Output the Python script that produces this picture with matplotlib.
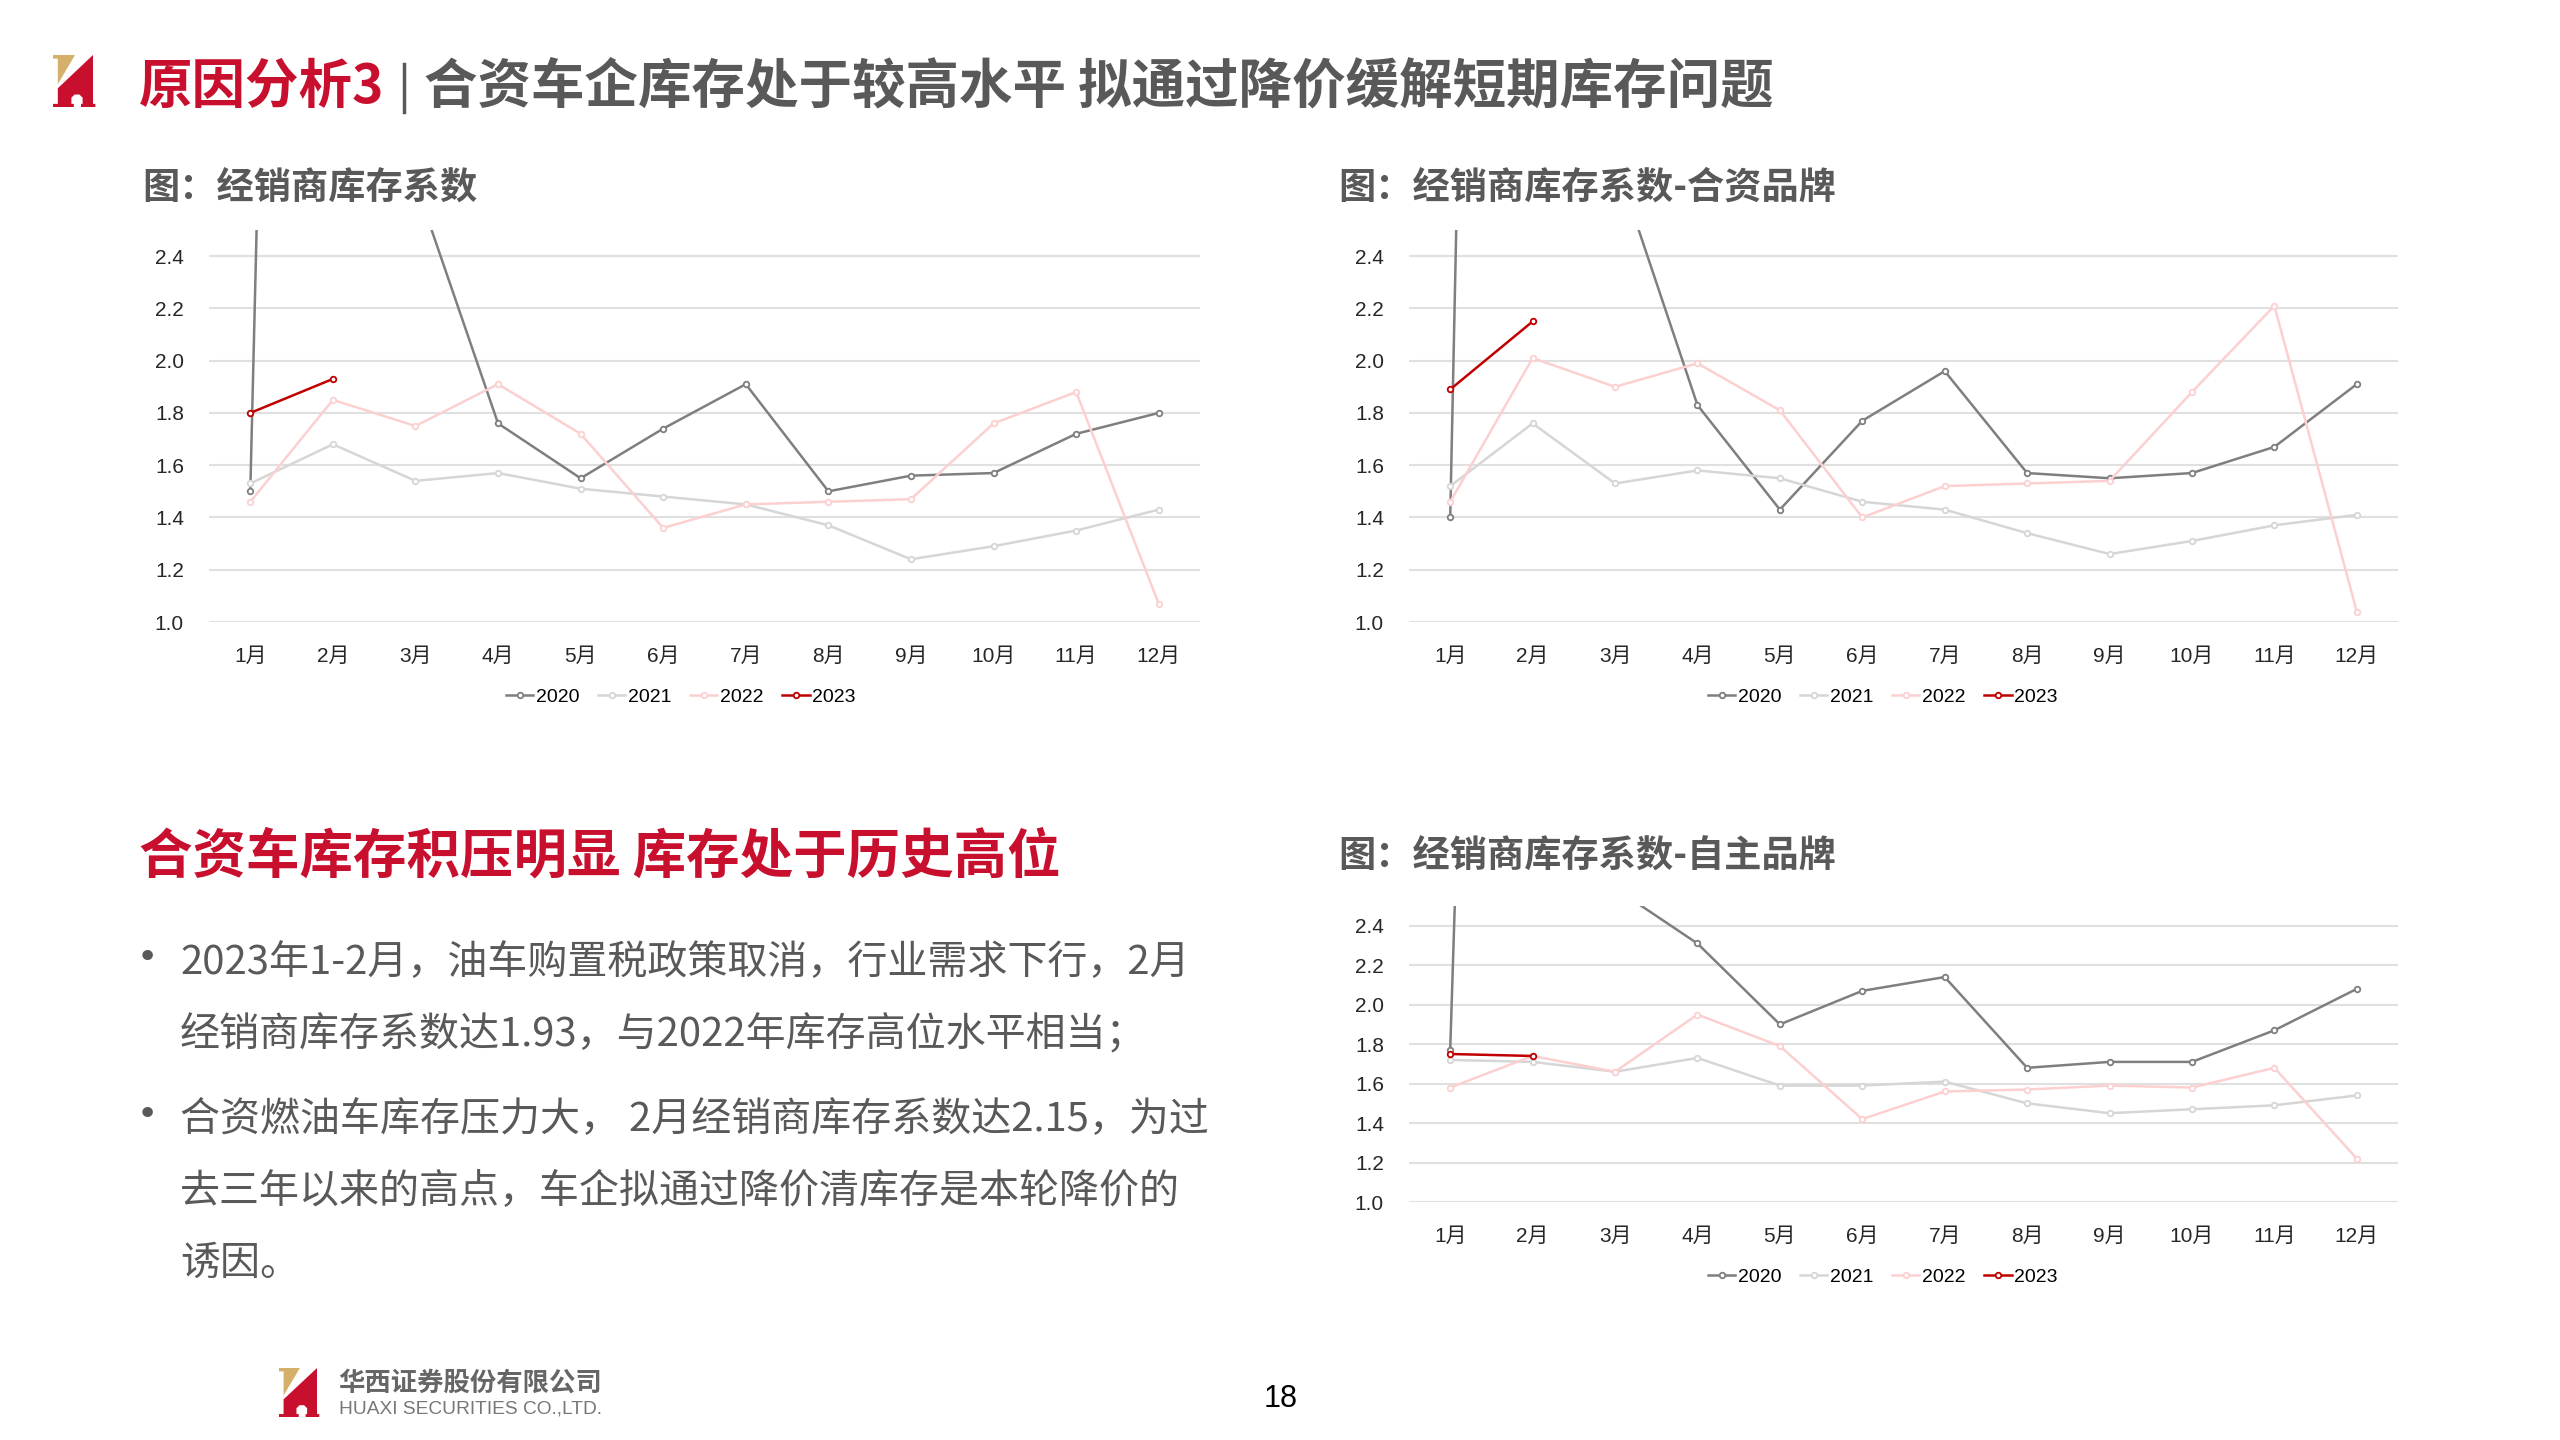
import matplotlib
matplotlib.use("Agg")
import matplotlib.pyplot as plt
from matplotlib.patches import Polygon

plt.rcParams['font.family'] = ['Liberation Sans', 'Noto Sans CJK SC', 'DejaVu Sans']

# ---------------- data ----------------
months = ['1月', '2月', '3月', '4月', '5月', '6月', '7月', '8月', '9月', '10月', '11月', '12月']
years = ['2020', '2021', '2022', '2023']

total_2020 = [1.50, 14.6, 2.68, 1.76, 1.55, 1.74, 1.91, 1.50, 1.56, 1.57, 1.72, 1.80]
total_2021 = [1.53, 1.68, 1.54, 1.57, 1.51, 1.48, 1.45, 1.37, 1.24, 1.29, 1.35, 1.43]
total_2022 = [1.46, 1.85, 1.75, 1.91, 1.72, 1.36, 1.45, 1.46, 1.47, 1.76, 1.88, 1.07]
total_2023 = [1.80, 1.93]

jv_2020 = [1.40, 16.5, 2.77, 1.83, 1.43, 1.77, 1.96, 1.57, 1.55, 1.57, 1.67, 1.91]
jv_2021 = [1.52, 1.76, 1.53, 1.58, 1.55, 1.46, 1.43, 1.34, 1.26, 1.31, 1.37, 1.41]
jv_2022 = [1.46, 2.01, 1.90, 1.99, 1.81, 1.40, 1.52, 1.53, 1.54, 1.88, 2.21, 1.04]
jv_2023 = [1.89, 2.15]

dom_2020 = [1.77, 15.0, 2.59, 2.31, 1.90, 2.07, 2.14, 1.68, 1.71, 1.71, 1.87, 2.08]
dom_2021 = [1.72, 1.71, 1.66, 1.73, 1.59, 1.59, 1.61, 1.50, 1.45, 1.47, 1.49, 1.54]
dom_2022 = [1.58, 1.74, 1.66, 1.95, 1.79, 1.42, 1.56, 1.57, 1.59, 1.58, 1.68, 1.22]
dom_2023 = [1.75, 1.74]

y_ticks = [1.0, 1.2, 1.4, 1.6, 1.8, 2.0, 2.2, 2.4]

chart_titles = ['图：经销商库存系数', '图：经销商库存系数-合资品牌', '图：经销商库存系数-自主品牌']
main_title_red = '原因分析3'
main_title_gray = '合资车企库存处于较高水平 拟通过降价缓解短期库存问题'
sub_heading = '合资车库存积压明显 库存处于历史高位'
bullet_lines = [
    '2023年1-2月，油车购置税政策取消，行业需求下行，2月',
    '经销商库存系数达1.93，与2022年库存高位水平相当；',
    '合资燃油车库存压力大， 2月经销商库存系数达2.15，为过',
    '去三年以来的高点，车企拟通过降价清库存是本轮降价的',
    '诱因。',
]
company_cn = '华西证券股份有限公司'
company_en = 'HUAXI SECURITIES CO.,LTD.'
page_no = '18'

# ---------------- styles ----------------
W, H = 2560, 1440
RED = '#c8102e'
GRAY_TXT = '#595959'
series_colors = ['#7f7f7f', '#d6d6d6', '#fcd0d0', '#c00000']
CJK = ['Noto Sans CJK SC', 'DejaVu Sans']

fig = plt.figure(figsize=(W / 100, H / 100), dpi=100)
fig.patch.set_facecolor('white')

bg = fig.add_axes([0, 0, 1, 1])
bg.set_xlim(0, W)
bg.set_ylim(H, 0)
bg.axis('off')


def logo(x0, y0, w, h):
    def tr(pts):
        return [(x0 + u * w, y0 + v * h) for u, v in pts]
    gold = [(0, 0), (0.55, 0), (0.12, 0.56), (0.12, 0.07), (0, 0.07)]
    red = [(0.12, 0.64), (1.0, 0.0), (1.0, 0.94), (1.06, 0.94), (1.06, 1.0), (0.70, 1.0),
           (0.70, 0.94), (0.74, 0.94), (0.74, 0.82), (0.66, 0.76), (0.54, 0.76), (0.46, 0.82),
           (0.46, 0.94), (0.52, 0.94), (0.52, 1.0), (0.0, 1.0), (0.0, 0.94), (0.12, 0.94)]
    bg.add_patch(Polygon(tr(gold), closed=True, facecolor='#d4b06a', edgecolor='none'))
    bg.add_patch(Polygon(tr(red), closed=True, facecolor='#c8102e', edgecolor='none'))


# header
logo(53, 55, 40, 52)
bg.text(139, 87, main_title_red, color=RED, fontsize=38.5, fontweight='bold',
        family=CJK, ha='left', va='center')
bg.plot([404, 404], [64, 112], color=GRAY_TXT, lw=2.5)
bg.text(424, 87, main_title_gray, color=GRAY_TXT, fontsize=38.5, fontweight='bold',
        family=CJK, ha='left', va='center')

# chart titles
bg.text(142, 188, chart_titles[0], color=GRAY_TXT, fontsize=26.8, fontweight='bold',
        family=CJK, ha='left', va='center')
bg.text(1338, 188, chart_titles[1], color=GRAY_TXT, fontsize=26.8, fontweight='bold',
        family=CJK, ha='left', va='center')
bg.text(1338, 856, chart_titles[2], color=GRAY_TXT, fontsize=26.8, fontweight='bold',
        family=CJK, ha='left', va='center')

# left text block
bg.text(139, 857, sub_heading, color=RED, fontsize=38.5, fontweight='bold',
        family=CJK, ha='left', va='center')
line_y = [963, 1035, 1120, 1192, 1264]
for t, yy in zip(bullet_lines, line_y):
    bg.text(180, yy, t, color=GRAY_TXT, fontsize=28.8, family=CJK, ha='left', va='center')
for yy in (line_y[0], line_y[2]):
    bg.text(147, yy - 5, '•', color=GRAY_TXT, fontsize=26, family=['DejaVu Sans'],
            ha='center', va='center')

# footer
logo(279, 1368, 38, 49)
bg.text(338, 1383, company_cn, color='#666666', fontsize=19, fontweight='bold',
        family=CJK, ha='left', va='center')
bg.text(339, 1409, company_en, color='#777777', fontsize=13.8, family=['Liberation Sans'],
        ha='left', va='center')
bg.text(1281, 1399, page_no, color='black', fontsize=22, family=['Liberation Sans'],
        ha='center', va='center')


def px_axes(left, right, top, bottom):
    return fig.add_axes([left / W, 1 - bottom / H, (right - left) / W, (bottom - top) / H])


def draw_chart(ax, series, legend_center):
    x = list(range(len(months)))
    for i, (name, vals) in enumerate(zip(years, series)):
        ax.plot(x[:len(vals)], vals, color=series_colors[i], lw=1.8, marker='o',
                markersize=4, markerfacecolor='white', markeredgecolor=series_colors[i],
                markeredgewidth=1.3, label=name, zorder=3 + i)
    ax.set_xlim(-0.5, 11.5)
    ax.set_ylim(1.0, 2.5)
    ax.set_yticks(y_ticks)
    ax.set_yticklabels([f'{v:.1f}' for v in y_ticks])
    ax.set_xticks(x)
    ax.set_xticklabels(months)
    ax.grid(axis='y', color='#e0e0e0', lw=1.5, zorder=0)
    ax.set_axisbelow(True)
    for s in ax.spines.values():
        s.set_visible(False)
    ax.tick_params(axis='y', length=0, pad=18, labelsize=15, labelcolor='#262626')
    ax.tick_params(axis='x', length=0, pad=18, labelsize=15, labelcolor='#262626')
    ax.set_facecolor('none')
    leg = ax.legend(loc='center', bbox_to_anchor=(legend_center[0] / W, 1 - legend_center[1] / H),
                    bbox_transform=fig.transFigure, ncol=4, frameon=False, fontsize=14,
                    handlelength=1.4, handletextpad=0.15, columnspacing=0.95)
    for t in leg.get_texts():
        t.set_color('black')


ax1 = px_axes(209, 1200, 230, 622)
draw_chart(ax1, [total_2020, total_2021, total_2022, total_2023], (681, 697))

ax2 = px_axes(1409, 2398, 230, 622)
draw_chart(ax2, [jv_2020, jv_2021, jv_2022, jv_2023], (1883, 697))

ax3 = px_axes(1409, 2398, 906, 1202)
draw_chart(ax3, [dom_2020, dom_2021, dom_2022, dom_2023], (1883, 1277))

fig.savefig('out.png', dpi=100, facecolor='white')
